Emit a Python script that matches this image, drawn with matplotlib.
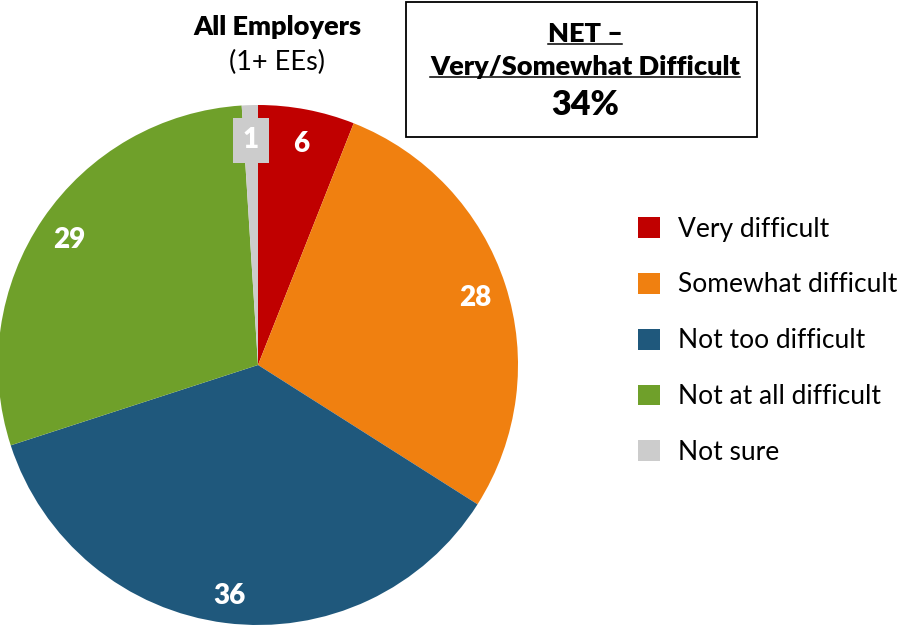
import matplotlib.pyplot as plt

plt.rcParams['font.family'] = ['Lato', 'DejaVu Sans']

labels = ["Very difficult", "Somewhat difficult", "Not too difficult",
          "Not at all difficult", "Not sure"]
values = [6, 28, 36, 29, 1]
colors = ["#C00000", "#F08010", "#1F587C", "#6FA02A", "#CCCCCC"]
net_value = 34

fig = plt.figure(figsize=(9.04, 6.26), dpi=100)
ax = fig.add_axes([0, 0, 1, 1])

wedges, texts, autotexts = ax.pie(
    values, colors=colors, startangle=90, counterclock=False,
    center=(258, 261), radius=260, frame=True,
    autopct=lambda p: f"{p:.0f}", pctdistance=0.88,
    textprops=dict(color='white', fontsize=20, fontweight='heavy'))
ax.set_xlim(0, 904)
ax.set_ylim(0, 626)
ax.axis('off')
for t in autotexts:
    x, y = t.get_position()
    t.set_position((x, y - 4))
autotexts[-1].set_bbox(dict(facecolor=colors[-1], edgecolor='none', pad=7))

# title
ax.text(277, 626 - 27, "All Employers", ha='center', va='center',
        fontsize=19.5, fontweight='heavy')
ax.text(277, 626 - 62, "(1+ EEs)", ha='center', va='center', fontsize=19.5)

# NET box
ax.add_patch(plt.Rectangle((406, 626 - 137), 351, 135, fill=False,
                           edgecolor='black', linewidth=1.3))
t1 = ax.text(585, 626 - 34, "NET \u2013", ha='center', va='center',
             fontsize=19.5, fontweight='heavy')
t2 = ax.text(585, 626 - 67, "Very/Somewhat Difficult", ha='center', va='center',
             fontsize=19.5, fontweight='heavy')
ax.text(585, 626 - 105, f"{net_value}%", ha='center', va='center',
        fontsize=24.5, fontweight='heavy')

fig.canvas.draw()
r = fig.canvas.get_renderer()
for t in (t1, t2):
    bb = t.get_window_extent(renderer=r)
    ax.plot([bb.x0, bb.x1], [bb.y0 + 2, bb.y0 + 2], color='black', lw=1.1)

# legend
ax.legend(wedges, labels, loc='upper left', bbox_to_anchor=(627 / 904, 1 - 206 / 626),
          frameon=False, fontsize=19, handlelength=0.84, handleheight=0.84,
          handletextpad=0.7, labelspacing=1.17, borderaxespad=0)

fig.savefig("out.png", dpi=100)
